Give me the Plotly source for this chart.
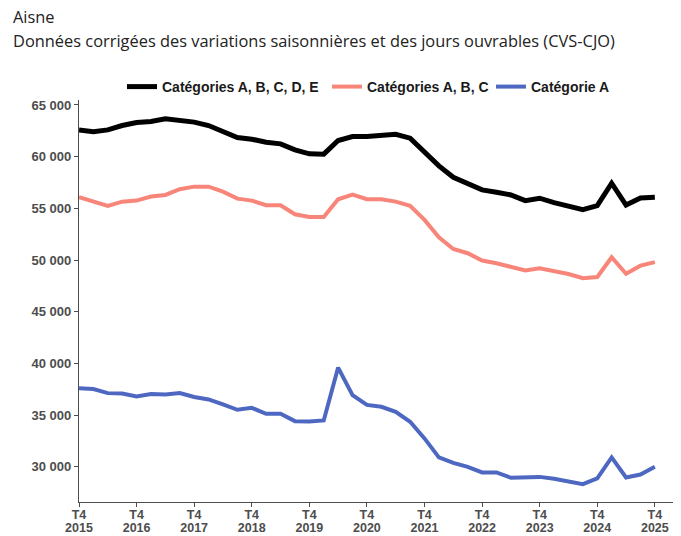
import plotly.graph_objects as go

years = list(range(2015, 2026))
quarters = list(range(41))  # T4 2015 .. T4 2025

cat_abcde = [62590, 62400, 62590, 63010, 63300, 63400, 63660, 63560, 63340, 63010,
             62430, 61850, 61690, 61400, 61240, 60660, 60270, 60240, 61560, 61940,
             61960, 62110, 62170, 61790, 60490, 59110, 58010, 57430, 56790, 56560,
             56300, 55750, 55980, 55560, 55170, 54880, 55260, 57430, 55320, 56010, 56080]
cat_abc = [56080, 55650, 55240, 55650, 55750, 56140, 56300, 56850, 57100, 57100,
           56620, 55940, 55750, 55300, 55300, 54430, 54170, 54170, 55880, 56330,
           55880, 55880, 55650, 55240, 53880, 52210, 51070, 50660, 49960, 49690,
           49360, 48990, 49200, 48970, 48650, 48240, 48360, 50270, 48670, 49460, 49800]
cat_a = [37600, 37520, 37130, 37100, 36810, 37040, 37000, 37130, 36750, 36520,
         36040, 35520, 35710, 35130, 35130, 34420, 34390, 34490, 39600, 36940,
         35990, 35810, 35320, 34360, 32750, 30910, 30390, 30000, 29460, 29460,
         28940, 28940, 29030, 28840, 28590, 28330, 28880, 30910, 28970, 29260, 30000]

tick_vals = list(range(0, 41, 4))
quarter_text = ["T4"] * len(years)
year_text = [str(y) for y in years]
y_ticks = [30000, 35000, 40000, 45000, 50000, 55000, 60000, 65000]
y_text = [f"{v // 1000} 000" for v in y_ticks]

fig = go.Figure()
fig.add_trace(go.Scatter(x=quarters, y=cat_abcde, mode="lines", name="Catégories A, B, C, D, E",
                         line=dict(color="#000000", width=5), legend="legend"))
fig.add_trace(go.Scatter(x=quarters, y=cat_abc, mode="lines", name="Catégories A, B, C",
                         line=dict(color="#F8857A", width=4), legend="legend2"))
fig.add_trace(go.Scatter(x=quarters, y=cat_a, mode="lines", name="Catégorie A",
                         line=dict(color="#4E68C2", width=4), legend="legend3"))
# invisible helper trace carrying the year row of the x axis
fig.add_trace(go.Scatter(x=[quarters[0], quarters[-1]], y=[cat_a[0], cat_a[-1]], xaxis="x2",
                         mode="lines", line=dict(width=0), hoverinfo="skip", showlegend=False))

# the page body has an 8px margin: the figure is sized so the plot lands where the reference has it
axis_font = dict(family="Liberation Sans", size=13, color="#4d4d4d", weight="bold")
x_font = dict(family="Liberation Sans", size=12.5, color="#4d4d4d", weight="bold")
PW, PH, L, T = 596, 402, 71, 92
xr = [0, 41.4]
leg_font = dict(family="Liberation Sans", size=14, color="#1a1a1a", weight="bold")


def leg(text_left_px):
    return dict(orientation="h", x=(text_left_px - 8 - 42 - L) / PW, xanchor="left",
                y=1 - 3 / PH, yanchor="bottom", font=leg_font, itemwidth=30,
                bgcolor="rgba(0,0,0,0)")


fig.update_layout(
    width=673, height=528,
    margin=dict(l=L, r=6, t=T, b=34, autoexpand=False),
    paper_bgcolor="white", plot_bgcolor="white",
    showlegend=True,
    legend=leg(164), legend2=leg(369), legend3=leg(533),
    xaxis=dict(range=xr, tickvals=tick_vals, ticktext=quarter_text, showgrid=False,
               zeroline=False, showline=True, linecolor="#4d4d4d", linewidth=1.2,
               ticks="outside", ticklen=4, tickcolor="#4d4d4d", automargin=False,
               ticklabelstandoff=-3, tickfont=x_font),
    xaxis2=dict(range=xr, tickvals=tick_vals, ticktext=year_text, showgrid=False,
                zeroline=False, showline=False, ticks="", overlaying="x", side="bottom",
                anchor="y", automargin=False, ticklabelstandoff=16, tickfont=x_font),
    yaxis=dict(range=[26600, 65480], tickvals=y_ticks, ticktext=y_text, showgrid=False,
               zeroline=False, showline=True, linecolor="#4d4d4d", linewidth=1.2,
               ticks="outside", ticklen=4, tickcolor="#4d4d4d", automargin=False,
               tickfont=axis_font),
    annotations=[
        dict(text="Aisne", xref="paper", yref="paper", x=-L / PW, y=1 + (T - 9) / PH,
             xanchor="left", yanchor="middle", showarrow=False,
             font=dict(family="Open Sans", size=16.4, color="#222222"), xshift=3),
        dict(text="Données corrigées des variations saisonnières et des jours ouvrables (CVS-CJO)",
             xref="paper", yref="paper", x=-L / PW, y=1 + (T - 32) / PH,
             xanchor="left", yanchor="middle", showarrow=False,
             font=dict(family="Open Sans", size=16.4, color="#222222"), xshift=3),
    ],
)
fig.write_html("out.html")
